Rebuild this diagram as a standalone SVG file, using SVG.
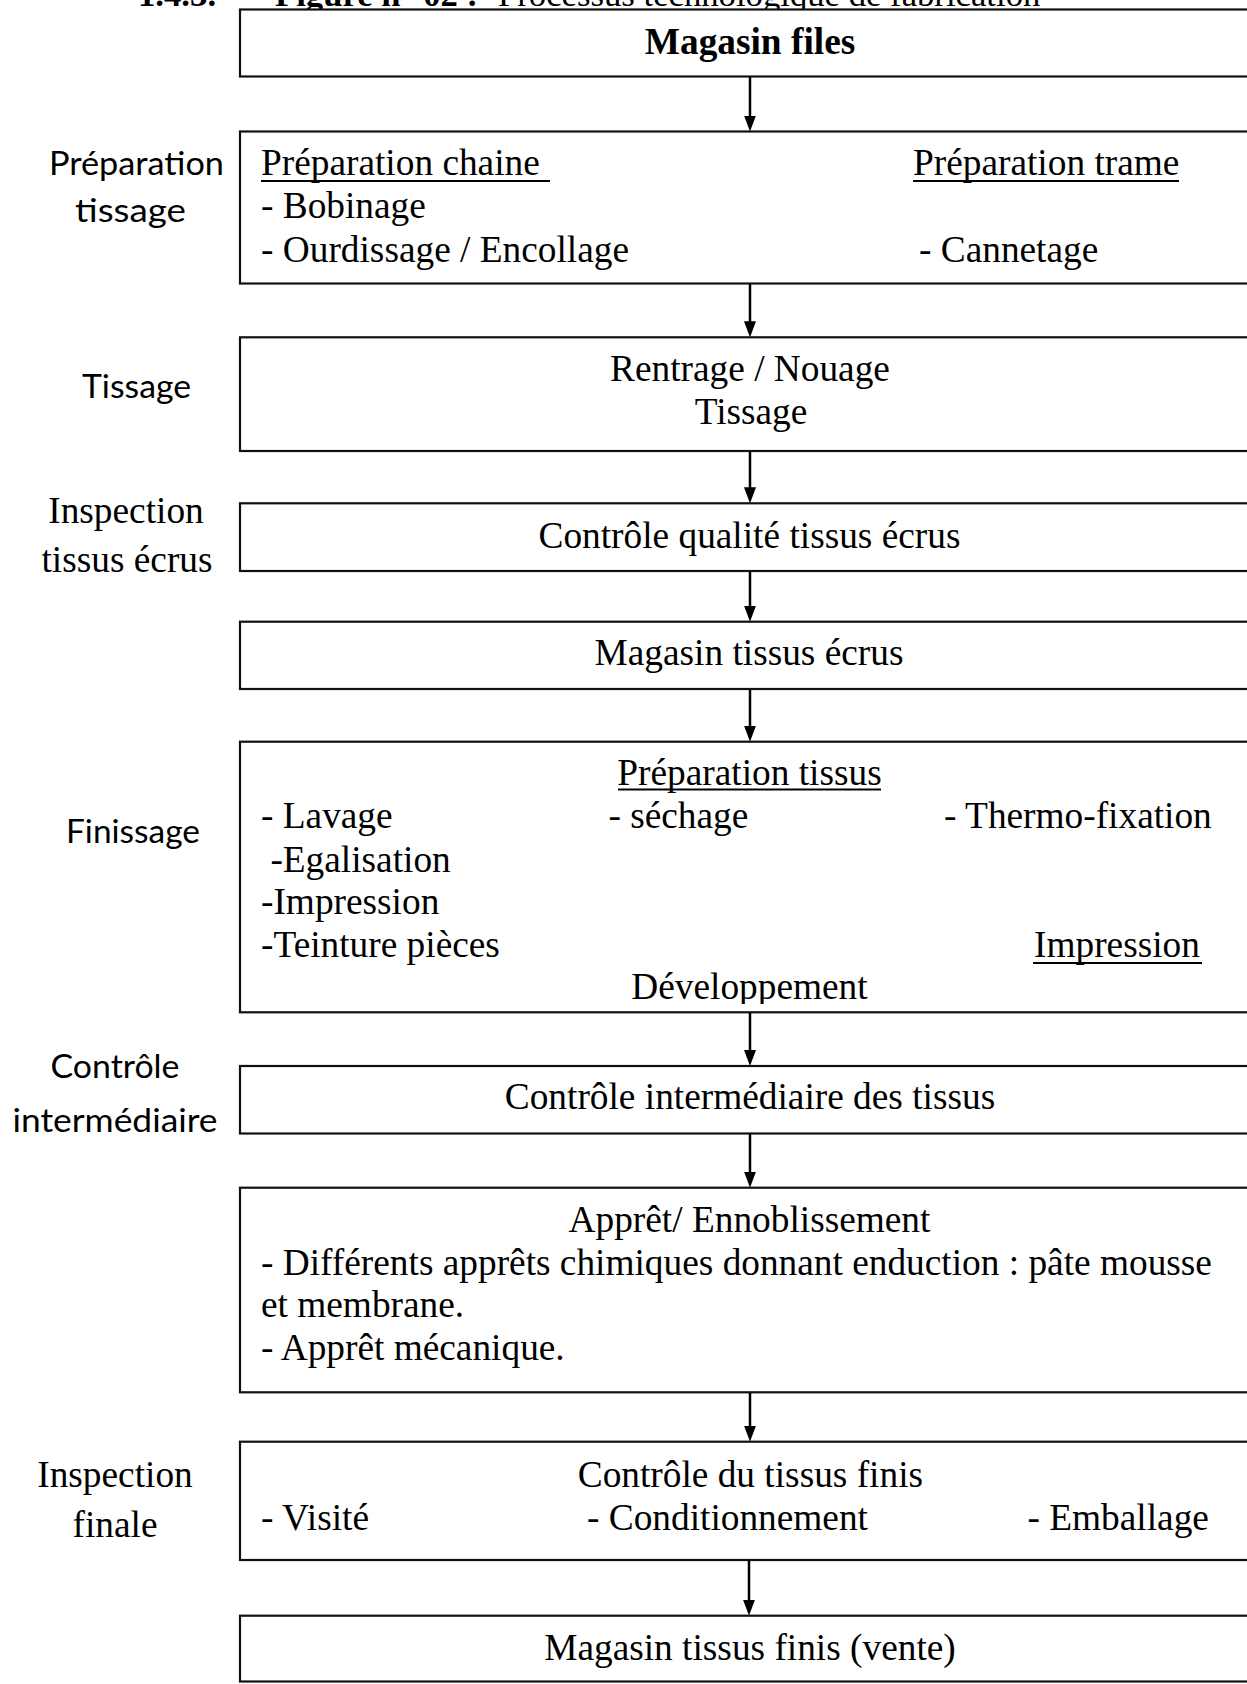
<svg xmlns="http://www.w3.org/2000/svg" width="1247" height="1684" viewBox="0 0 1247 1684">
  <style>
    .box { fill: #fff; stroke: #111; stroke-width: 2.2; }
    .t { font-family: "Liberation Serif", "Times New Roman", serif; font-size: 37.33px; fill: #000; }
    .ttl { font-family: "Liberation Serif", "Times New Roman", serif; font-size: 34.7px; fill: #000; }
    .c { text-anchor: middle; }
    .b { font-weight: bold; }
    .lab { font-family: Lato, "Open Sans", sans-serif; font-size: 32.5px; fill: #000; text-anchor: middle; }
    .ul { stroke: #000; stroke-width: 2; }
    .arrow { stroke: #000; stroke-width: 2.5; fill: none; marker-end: url(#ah); }
  </style>
  <defs>
    <marker id="ah" viewBox="0 0 16 12" refX="6" refY="6" markerWidth="16" markerHeight="12" markerUnits="userSpaceOnUse" orient="auto">
      <path d="M0,0 L16,6 L0,12 z" fill="#000"/>
    </marker>
    <clipPath id="clipDev">
      <rect x="240" y="900" width="1010" height="104"/>
    </clipPath>
  </defs>
  <rect width="1247" height="1684" fill="#fff"/>

  <!-- heading, partly above the page edge; the first box covers its descenders -->
  <text class="ttl" y="5.5"><tspan x="138" class="b">1.4.3.</tspan><tspan x="275" class="b">Figure n° 02 :</tspan><tspan x="498">Processus technologique de fabrication</tspan></text>

  <!-- stage labels on the left -->
  <g id="labels">
    <text class="lab" x="136.5" y="175" textLength="175" lengthAdjust="spacingAndGlyphs">Préparation</text>
    <text class="lab" x="130.5" y="221.5" textLength="111" lengthAdjust="spacingAndGlyphs">tissage</text>
    <text class="lab" x="136.5" y="398" textLength="109" lengthAdjust="spacingAndGlyphs">Tissage</text>
    <text class="t c" x="126" y="523">Inspection</text>
    <text class="t c" x="127" y="572">tissus écrus</text>
    <text class="lab" x="133" y="843" textLength="134" lengthAdjust="spacingAndGlyphs">Finissage</text>
    <text class="lab" x="115" y="1078" textLength="129" lengthAdjust="spacingAndGlyphs">Contrôle</text>
    <text class="lab" x="115" y="1131.5" textLength="205" lengthAdjust="spacingAndGlyphs">intermédiaire</text>
    <text class="t c" x="115" y="1487">Inspection</text>
    <text class="t c" x="115" y="1536.5">finale</text>
  </g>

  <g id="magasin-files">
    <rect class="box" x="240" y="9.5" width="1020" height="67"/>
    <text class="t c b" x="750" y="53.5">Magasin files</text>
  </g>

  <g id="preparation-tissage">
    <rect class="box" x="240" y="131.5" width="1020" height="152"/>
    <text class="t" x="261" y="175">Préparation chaine </text>
    <line class="ul" x1="261" y1="181" x2="550" y2="181"/>
    <text class="t" x="913" y="175">Préparation trame</text>
    <line class="ul" x1="913" y1="181" x2="1179" y2="181"/>
    <text class="t" x="261" y="218">- Bobinage</text>
    <text class="t" x="261" y="261.5">- Ourdissage / Encollage</text>
    <text class="t" x="919" y="261.5">- Cannetage</text>
  </g>

  <g id="tissage">
    <rect class="box" x="240" y="337.3" width="1020" height="113.7"/>
    <text class="t c" x="750" y="380.5">Rentrage / Nouage</text>
    <text class="t c" x="751" y="424">Tissage</text>
  </g>

  <g id="controle-ecrus">
    <rect class="box" x="240" y="503.3" width="1020" height="67.7"/>
    <text class="t c" x="749.5" y="548.3">Contrôle qualité tissus écrus</text>
  </g>

  <g id="magasin-ecrus">
    <rect class="box" x="240" y="621.7" width="1020" height="67.3"/>
    <text class="t c" x="749" y="665">Magasin tissus écrus</text>
  </g>

  <g id="finissage">
    <rect class="box" x="240" y="741.7" width="1020" height="270.6"/>
    <text class="t c" x="749.5" y="785">Préparation tissus</text>
    <line class="ul" x1="618" y1="789.5" x2="881" y2="789.5"/>
    <text class="t" x="261" y="828.3">- Lavage</text>
    <text class="t" x="608.4" y="828.3">- séchage</text>
    <text class="t" x="944" y="828.3">- Thermo-fixation</text>
    <text class="t" x="270.4" y="871.7">-Egalisation</text>
    <text class="t" x="261" y="914.3">-Impression</text>
    <text class="t" x="261" y="956.7">-Teinture pièces</text>
    <text class="t" x="1034" y="956.7">Impression</text>
    <line class="ul" x1="1033" y1="963" x2="1202" y2="963"/>
    <g clip-path="url(#clipDev)">
      <text class="t c" x="749.5" y="999">Développement</text>
    </g>
  </g>

  <g id="controle-intermediaire">
    <rect class="box" x="240" y="1066" width="1020" height="67.5"/>
    <text class="t c" x="750" y="1108.5">Contrôle intermédiaire des tissus</text>
  </g>

  <g id="appret">
    <rect class="box" x="240" y="1187.7" width="1020" height="204.6"/>
    <text class="t c" x="749.5" y="1231.7">Apprêt/ Ennoblissement</text>
    <text class="t" x="261" y="1275">- Différents apprêts chimiques donnant enduction : pâte mousse</text>
    <text class="t" x="261" y="1316.7">et membrane.</text>
    <text class="t" x="261" y="1360">- Apprêt mécanique.</text>
  </g>

  <g id="controle-finis">
    <rect class="box" x="240" y="1441.7" width="1020" height="118.3"/>
    <text class="t c" x="750.4" y="1487.3">Contrôle du tissus finis</text>
    <text class="t" x="261" y="1530">- Visité</text>
    <text class="t" x="587" y="1530">- Conditionnement</text>
    <text class="t" x="1027.5" y="1530">- Emballage</text>
  </g>

  <g id="magasin-finis">
    <rect class="box" x="240" y="1615.7" width="1020" height="65.8"/>
    <text class="t c" x="750" y="1660">Magasin tissus finis (vente)</text>
  </g>

  <!-- connectors: arrow tip lands on the top edge of the next box -->
  <g id="connectors">
    <line class="arrow" x1="750" y1="77" x2="750" y2="121.5"/>
    <line class="arrow" x1="750" y1="284" x2="750" y2="327.3"/>
    <line class="arrow" x1="750" y1="451.5" x2="750" y2="493.3"/>
    <line class="arrow" x1="750" y1="571.5" x2="750" y2="611.7"/>
    <line class="arrow" x1="750" y1="689.5" x2="750" y2="731.7"/>
    <line class="arrow" x1="750" y1="1013" x2="750" y2="1056"/>
    <line class="arrow" x1="750" y1="1134" x2="750" y2="1177.7"/>
    <line class="arrow" x1="750" y1="1393" x2="750" y2="1431.7"/>
    <line class="arrow" x1="749" y1="1560.5" x2="749" y2="1605.7"/>
  </g>
</svg>
